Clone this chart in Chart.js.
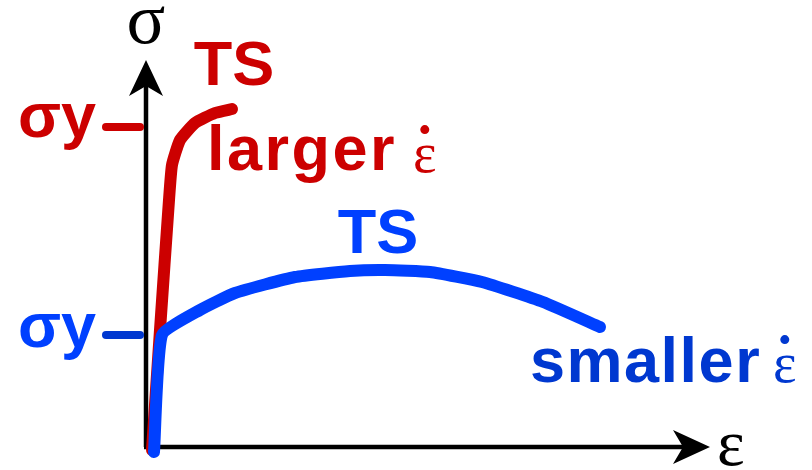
<!DOCTYPE html>
<html lang="en">
<head>
<meta charset="UTF-8">
<title>Stress-strain: strain rate effect</title>
<script src="https://cdn.jsdelivr.net/npm/chart.js"></script>
<style>
    body { margin: 0; background: #fff; }
    #wrap { width: 812px; height: 470px; }
</style>
</head>
<body>
<div id="wrap"><canvas id="ssChart"></canvas></div>
<script>
    // strain (x) and stress (y), arbitrary units, origin at the axes corner
    const fastStrain = [0.6, 1.4, 2.3, 2.6, 3.4, 4.9, 6.9, 8.6];
    const fastStress = [-0.3, 11.7, 24.7, 28.2, 30.7, 32.4, 33.4, 33.8];
    const slowStrain = [0.8, 1.6, 5.4, 8.9, 14.9, 20.4, 23.9, 28.4, 33.6, 39.7, 45.4];
    const slowStress = [-0.5, 11.2, 13.7, 15.4, 17.0, 17.6, 17.7, 17.5, 16.5, 14.5, 12.0];
    const yieldStress = [32.0, 11.2]; // larger rate, smaller rate
    const strainMax = 56.4;
    const stressMax = 38.7;

    const RED = '#cc0000';
    const BLUE = '#0040ff';
    const BLUE_DARK = '#0038d0';

    function toPoints(xs, ys) {
        return xs.map((x, i) => ({ x: x, y: ys[i] }));
    }

    // axes with arrowheads, drawn under the curves
    const axesPlugin = {
        id: 'axes',
        beforeDatasetsDraw(chart) {
            const { ctx, scales: { x, y } } = chart;
            const x0 = x.getPixelForValue(0), y0 = y.getPixelForValue(0);
            const xt = x.getPixelForValue(strainMax), yt = y.getPixelForValue(stressMax);
            ctx.save();
            ctx.strokeStyle = '#000';
            ctx.fillStyle = '#000';
            ctx.lineWidth = 4.5;
            ctx.beginPath();
            ctx.moveTo(x0, y0);
            ctx.lineTo(x0, yt + 20);
            ctx.moveTo(x0 - 2, y0);
            ctx.lineTo(xt - 20, y0);
            ctx.stroke();
            // vertical arrowhead
            ctx.beginPath();
            ctx.moveTo(x0, yt);
            ctx.lineTo(x0 + 17, yt + 36);
            ctx.lineTo(x0, yt + 26);
            ctx.lineTo(x0 - 17, yt + 36);
            ctx.closePath();
            ctx.fill();
            // horizontal arrowhead
            ctx.beginPath();
            ctx.moveTo(xt, y0);
            ctx.lineTo(xt - 37, y0 - 17);
            ctx.lineTo(xt - 27, y0);
            ctx.lineTo(xt - 37, y0 + 17);
            ctx.closePath();
            ctx.fill();
            // yield ticks
            ctx.lineCap = 'round';
            ctx.lineWidth = 8;
            [RED, BLUE_DARK].forEach((c, i) => {
                const py = y.getPixelForValue(yieldStress[i]);
                ctx.strokeStyle = c;
                ctx.beginPath();
                ctx.moveTo(x0 - 40, py);
                ctx.lineTo(x0 - 6, py);
                ctx.stroke();
            });
            ctx.restore();
        },
        afterDatasetsDraw(chart) {
            const { ctx, scales: { x, y } } = chart;
            const sans = 'bold 63px "Liberation Sans", Arial, sans-serif';
            const serif = '"Liberation Serif", "Times New Roman", serif';
            const put = (txt, vx, vy, font, color, align, spacing) => {
                ctx.font = font;
                ctx.fillStyle = color;
                ctx.textAlign = align || 'left';
                ctx.textBaseline = 'alphabetic';
                ctx.letterSpacing = spacing || '0px';
                ctx.fillText(txt, x.getPixelForValue(vx), y.getPixelForValue(vy));
            };
            // epsilon with a dot above it (strain rate)
            const epsDot = (vx, vy, color) => {
                const font = '56px ' + serif;
                put('ε', vx, vy, font, color);
                const w = ctx.measureText('ε').width;
                const px = x.getPixelForValue(vx) + w / 2;
                const py = y.getPixelForValue(vy);
                ctx.textAlign = 'center';
                ctx.font = 'bold 60px ' + serif;
                ctx.fillText('˙', px, py - 6);
            };
            ctx.save();
            put('σ', 0, 40.4, '72px ' + serif, '#000', 'center');
            put('ε', 57.1, -1.8, '66px ' + serif, '#000');
            put('TS', 8.8, 36.2, sans, RED, 'center');
            put('σy', -12.8, 31.0, sans, RED);
            put('larger', 6.1, 27.7, sans, RED, 'left', '2.5px');
            epsDot(26.7, 27.5, RED);
            put('TS', 23.2, 19.4, sans, BLUE, 'center');
            put('σy', -12.8, 10.0, sans, BLUE);
            put('smaller', 38.4, 6.5, sans, BLUE_DARK, 'left', '1.5px');
            epsDot(62.7, 6.5, BLUE_DARK);
            ctx.restore();
        }
    };

    new Chart(document.getElementById('ssChart'), {
        type: 'scatter',
        data: {
            datasets: [
                {
                    label: 'smaller strain rate',
                    data: toPoints(slowStrain, slowStress),
                    borderColor: BLUE,
                    showLine: true
                },
                {
                    label: 'larger strain rate',
                    data: toPoints(fastStrain, fastStress),
                    borderColor: RED,
                    showLine: true
                }
            ]
        },
        options: {
            responsive: true,
            maintainAspectRatio: false,
            animation: false,
            layout: { padding: 0 },
            elements: {
                point: { radius: 0, hoverRadius: 0 },
                line: { borderWidth: 12, tension: 0.15, borderCapStyle: 'round', borderJoinStyle: 'round' }
            },
            datasets: { scatter: { clip: false } },
            scales: {
                x: { type: 'linear', display: false, min: -14.6, max: 66.6 },
                y: { type: 'linear', display: false, min: -2.3, max: 44.7 }
            },
            plugins: { legend: { display: false }, tooltip: { enabled: false } }
        },
        plugins: [axesPlugin]
    });
</script>
</body>
</html>
